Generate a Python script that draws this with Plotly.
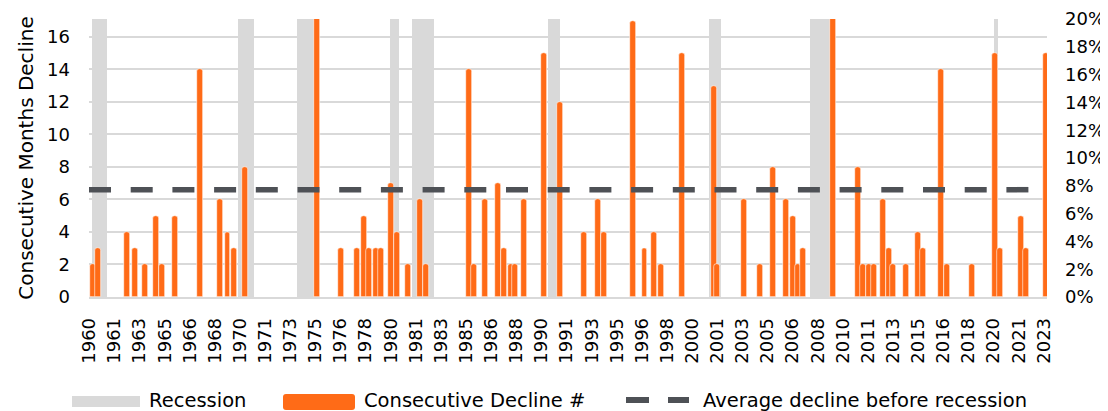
import pandas as pd
import plotly.graph_objects as go

# ---------------- data ----------------
decline_dates = [
    "1960-04", "1960-08", "1962-07", "1963-01", "1963-09", "1964-06", "1964-11", "1965-09",
    "1967-05", "1968-09", "1969-03", "1969-08", "1970-05", "1975-02", "1976-09", "1977-10",
    "1978-04", "1978-08", "1979-01", "1979-05", "1980-01", "1980-06", "1981-03", "1981-12",
    "1982-05", "1985-03", "1985-07", "1986-04", "1987-02", "1987-07", "1988-01", "1988-04",
    "1988-11", "1990-03", "1991-04", "1992-11", "1993-10", "1994-03", "1996-02", "1996-11",
    "1997-07", "1997-12", "1999-05", "2001-06", "2001-09", "2003-06", "2004-07", "2005-05",
    "2006-04", "2006-09", "2007-01", "2007-05", "2009-05", "2011-01", "2011-05", "2011-10",
    "2012-02", "2012-09", "2013-02", "2013-05", "2014-03", "2015-01", "2015-05", "2016-07",
    "2016-12", "2018-08", "2020-02", "2020-06", "2021-11", "2022-03", "2023-07",
]
decline_months = [
    2, 3, 4, 3, 2, 5, 2, 5,
    14, 6, 4, 3, 8, 18, 3, 3,
    5, 3, 3, 3, 7, 4, 2, 6,
    2, 14, 2, 6, 7, 3, 2, 2,
    6, 15, 12, 4, 6, 4, 17, 3,
    4, 2, 15, 13, 2, 6, 2, 8,
    6, 5, 2, 3, 18, 8, 2, 2,
    2, 6, 3, 2, 2, 4, 3, 14,
    2, 2, 15, 3, 5, 3, 15,
]

rec_start = ["1960-04", "1969-12", "1973-11", "1980-01", "1981-07",
             "1990-07", "2001-03", "2007-12", "2020-02"]
rec_end = ["1961-02", "1970-11", "1975-03", "1980-07", "1982-11",
           "1991-03", "2001-11", "2009-06", "2020-04"]
recession_level = 0.20

avg_decline = 6.6
avg_dates = ["1959-12-22", "2023-07-19"]

# ---------------- styling ----------------
ORANGE = "#FF6B17"
GREY = "#D9D9D9"
DARK = "#4E5156"
FONT = "DejaVu Sans"

# recession bands as bars (padded to cover whole months)
rs = pd.to_datetime(rec_start) - pd.Timedelta(days=24)
re_ = pd.to_datetime(rec_end) + pd.Timedelta(days=24)
rec_center = rs + (re_ - rs) / 2
rec_width = [(b - a).total_seconds() * 1000 for a, b in zip(rs, re_)]

bar_width_ms = 145 * 86400000

fig = go.Figure()

fig.add_trace(go.Bar(
    x=rec_center, y=[recession_level] * len(rec_start), width=rec_width,
    marker=dict(color=GREY, line=dict(width=0)),
    name="Recession", yaxis="y", showlegend=False, hoverinfo="skip",
))

fig.add_trace(go.Bar(
    x=pd.to_datetime(decline_dates), y=decline_months,
    width=[bar_width_ms] * len(decline_dates),
    marker=dict(color=ORANGE, cornerradius=3, line=dict(color="white", width=0.6)),
    name="Consecutive Decline #", yaxis="y2", showlegend=False,
))

fig.add_trace(go.Scatter(
    x=pd.to_datetime(avg_dates), y=[avg_decline] * len(avg_dates),
    mode="lines", line=dict(color=DARK, width=5.5, dash="22px,19.7px"),
    name="Average decline before recession", yaxis="y2", showlegend=False,
))

# ---------------- layout ----------------
# page body has an 8px margin; figure is sized so the plot area lands at
# absolute x 89..1047, y 19..297 in the 1108x411 window
OFF = 8
W, H = 1108 - OFF, 411 - OFF
PL, PR, PT, PB = 89, 1047, 19, 297
L, R, T, B = PL - OFF, 1108 - PR, PT - OFF, 411 - PB
pw, ph = PR - PL, PB - PT


def px_x(px):
    return (px - PL) / pw


def px_y(py):
    return (PB - py) / ph


shapes = []
# legend: recession swatch
shapes.append(dict(type="rect", xref="paper", yref="paper",
                   x0=px_x(72), x1=px_x(140), y0=px_y(407), y1=px_y(396),
                   fillcolor=GREY, line=dict(width=0)))
# legend: orange rounded swatch
x0, x1, y0, y1 = px_x(283), px_x(355), px_y(410), px_y(394)
rx, ry = 3 / pw, 3 / ph
path = (f"M {x0+rx},{y0} L {x1-rx},{y0} Q {x1},{y0} {x1},{y0+ry} "
        f"L {x1},{y1-ry} Q {x1},{y1} {x1-rx},{y1} L {x0+rx},{y1} "
        f"Q {x0},{y1} {x0},{y1-ry} L {x0},{y0+ry} Q {x0},{y0} {x0+rx},{y0} Z")
shapes.append(dict(type="path", xref="paper", yref="paper", path=path,
                   fillcolor=ORANGE, line=dict(width=0)))
# legend: dashed line (two dashes)
for a, b in [(626, 649), (668, 689)]:
    shapes.append(dict(type="line", xref="paper", yref="paper",
                       x0=px_x(a), x1=px_x(b), y0=px_y(400), y1=px_y(400),
                       line=dict(color=DARK, width=6)))

annotations = []
for label, xpx in [("Recession", 147), ("Consecutive Decline #", 362),
                   ("Average decline before recession", 701)]:
    annotations.append(dict(text=label, xref="paper", yref="paper",
                            x=px_x(xpx), y=px_y(400), xanchor="left", yanchor="middle",
                            showarrow=False, font=dict(family=FONT, size=19.5, color="black")))

fig.update_layout(
    template="none",
    width=W, height=H,
    margin=dict(l=L, r=R, t=T, b=B, pad=0),
    paper_bgcolor="white", plot_bgcolor="white",
    barmode="overlay", bargap=0,
    font=dict(family=FONT, size=18, color="black"),
    showlegend=False,
    xaxis=dict(
        type="date",
        range=["1959-12-22", "2023-07-19"],
        tick0="1960-01-01", dtick="M20", tickformat="%Y",
        tickangle=-90, ticks="", ticklabelstandoff=12,
        showgrid=False, zeroline=False,
        showline=True, linecolor=GREY, linewidth=1.5,
        tickfont=dict(family=FONT, size=18, color="black"),
        automargin=False,
    ),
    yaxis=dict(
        side="right", range=[0, 0.2], dtick=0.02, tickformat=".0%",
        showgrid=False, zeroline=False, showline=False, ticks="",
        ticklabelstandoff=17,
        tickfont=dict(family=FONT, size=18, color="black"),
        automargin=False,
    ),
    yaxis2=dict(
        overlaying="y", side="left", range=[0, 17.1], dtick=2, tick0=0,
        showgrid=True, gridcolor=GREY, gridwidth=1.5,
        zeroline=False, showline=False, ticks="",
        ticklabelstandoff=18,
        tickfont=dict(family=FONT, size=18, color="black"),
        title=dict(text="Consecutive Months Decline", standoff=8,
                   font=dict(family=FONT, size=20, color="black")),
        automargin=False,
    ),
    shapes=shapes,
    annotations=annotations,
)

fig.write_html("out.html")
